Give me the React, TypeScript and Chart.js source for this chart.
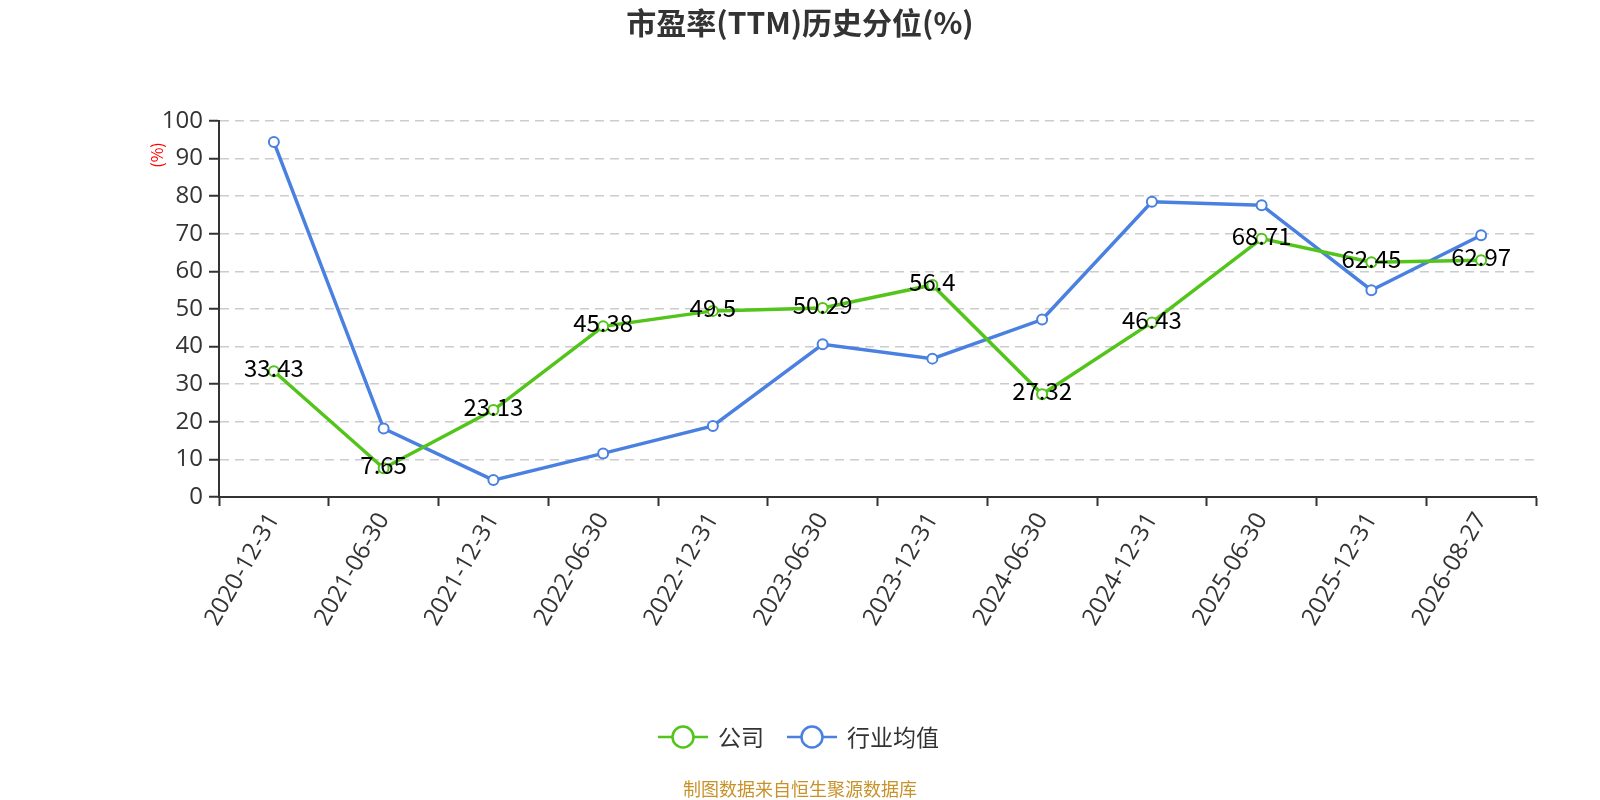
import React, { useEffect, useRef } from 'react';
import { Chart, registerables } from 'chart.js';

Chart.register(...registerables);

const categories = [
  '2020-12-31', '2021-06-30', '2021-12-31', '2022-06-30', '2022-12-31', '2023-06-30',
  '2023-12-31', '2024-06-30', '2024-12-31', '2025-06-30', '2025-12-31', '2026-08-27',
];
const companyValues = [33.43, 7.65, 23.13, 45.38, 49.5, 50.29, 56.4, 27.32, 46.43, 68.71, 62.45, 62.97];
const industryValues = [94.4, 18.2, 4.5, 11.6, 18.9, 40.6, 36.8, 47.2, 78.5, 77.6, 55.0, 69.6];
const seriesNames = ['公司', '行业均值'];
const titleText = '市盈率(TTM)历史分位(%)';
const yUnitText = '(%)';
const footerText = '制图数据来自恒生聚源数据库';

const GREEN = '#52c41a';
const BLUE = '#4a80e0';
const FONT = '"Noto Sans CJK SC", "Noto Sans", sans-serif';
const LATIN = '"Open Sans", "Noto Sans CJK SC", sans-serif';

const decorPlugin = {
  id: 'decor',
  afterDatasetsDraw(chart: any) {
    const ctx = chart.ctx;
    const meta = chart.getDatasetMeta(0);
    ctx.save();
    ctx.font = `24px ${FONT}`;
    ctx.fillStyle = '#000';
    ctx.textAlign = 'center';
    ctx.textBaseline = 'middle';
    meta.data.forEach((pt: any, i: number) => {
      ctx.fillText(String(companyValues[i]), pt.x, pt.y - 3);
    });
    ctx.restore();
  },
  afterDraw(chart: any) {
    const ctx = chart.ctx;
    const w = chart.width;
    ctx.save();
    ctx.font = `bold 30px ${FONT}`;
    ctx.fillStyle = '#333';
    ctx.textAlign = 'center';
    ctx.textBaseline = 'middle';
    ctx.fillText(titleText, w / 2, 23);
    ctx.save();
    ctx.translate(157, 155);
    ctx.rotate(-Math.PI / 2);
    ctx.font = `16px ${FONT}`;
    ctx.fillStyle = '#ff0000';
    ctx.fillText(yUnitText, 0, 0);
    ctx.restore();
    const items = [
      { name: seriesNames[0], color: GREEN, x: 658 },
      { name: seriesNames[1], color: BLUE, x: 787 },
    ];
    const ly = 737;
    items.forEach((it) => {
      ctx.strokeStyle = it.color;
      ctx.lineWidth = 2.5;
      ctx.beginPath();
      ctx.moveTo(it.x, ly);
      ctx.lineTo(it.x + 50, ly);
      ctx.stroke();
      ctx.beginPath();
      ctx.arc(it.x + 25, ly, 10.5, 0, Math.PI * 2);
      ctx.fillStyle = '#fff';
      ctx.fill();
      ctx.lineWidth = 2.5;
      ctx.stroke();
      ctx.font = `23px ${FONT}`;
      ctx.fillStyle = '#333';
      ctx.textAlign = 'left';
      ctx.textBaseline = 'middle';
      ctx.fillText(it.name, it.x + 60, ly);
    });
    ctx.font = `18px ${FONT}`;
    ctx.fillStyle = '#c8922a';
    ctx.textAlign = 'center';
    ctx.textBaseline = 'middle';
    ctx.fillText(footerText, w / 2, 789);
    ctx.restore();
  },
};

export default function App() {
  const ref = useRef<HTMLCanvasElement | null>(null);
  useEffect(() => {
    if (!ref.current) return;
    const chart = new Chart(ref.current, {
      type: 'line',
      data: {
        labels: categories,
        datasets: [
          {
            label: seriesNames[0],
            data: companyValues,
            borderColor: GREEN,
            backgroundColor: '#fff',
            pointBackgroundColor: '#fff',
            pointBorderColor: GREEN,
            pointBorderWidth: 2,
            pointRadius: 5,
            borderWidth: 3.5,
            tension: 0,
          },
          {
            label: seriesNames[1],
            data: industryValues,
            borderColor: BLUE,
            backgroundColor: '#fff',
            pointBackgroundColor: '#fff',
            pointBorderColor: BLUE,
            pointBorderWidth: 2,
            pointRadius: 5,
            borderWidth: 3.5,
            tension: 0,
          },
        ],
      },
      options: {
        animation: false,
        responsive: false,
        devicePixelRatio: 1,
        layout: { padding: { top: 121, right: 64, left: 0, bottom: 0 } },
        plugins: {
          legend: { display: false },
          title: { display: false },
          tooltip: { enabled: false },
        },
        scales: {
          x: {
            type: 'category',
            offset: true,
            grid: {
              display: true,
              offset: true,
              drawOnChartArea: false,
              drawTicks: true,
              tickLength: 9,
              tickColor: '#333',
              tickWidth: 2,
            },
            border: { display: true, color: '#333', width: 2 },
            ticks: {
              color: '#333',
              font: { size: 24, family: LATIN },
              minRotation: 60,
              maxRotation: 60,
              autoSkip: false,
              padding: 2,
            },
            afterFit(scale: any) {
              scale.height = 303;
            },
          },
          y: {
            min: 0,
            max: 100,
            ticks: {
              stepSize: 10,
              color: '#333',
              font: { size: 24, family: LATIN },
              padding: 6,
            },
            grid: {
              color: (c: any) => (c.tick && c.tick.value === 0 ? 'rgba(0,0,0,0)' : '#cccccc'),
              lineWidth: 1.5,
              tickColor: '#333',
              tickLength: 10,
              tickWidth: 2,
            },
            border: { display: true, color: '#333', width: 2, dash: [9, 6] },
            afterFit(scale: any) {
              scale.width = 219;
            },
          },
        },
      },
      plugins: [decorPlugin],
    });
    return () => chart.destroy();
  }, []);
  return (
    <div style={{ position: 'absolute', left: 0, top: 0, width: 1600, height: 800, background: '#fff' }}>
      <canvas ref={ref} width={1600} height={800} style={{ width: 1600, height: 800 }} />
    </div>
  );
}
